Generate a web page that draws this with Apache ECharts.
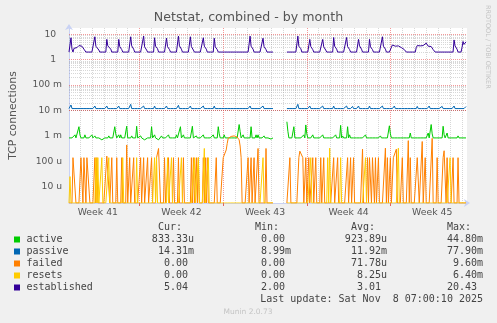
<!DOCTYPE html>
<html><head><meta charset="utf-8">
<script src="https://cdn.jsdelivr.net/npm/echarts@6/dist/echarts.min.js"></script>
<style>html,body{margin:0;padding:0;background:#f0f0f0;}#c{width:497px;height:323px;}</style>
</head><body><div id="c"></div>
<script>
// ---- x axis: 2-hour sample slots across the month view ----
const SLOTS = 400;
const GAP = [205, 219];               // no data between these slots
const weekLabels = ['Week 41', 'Week 42', 'Week 43', 'Week 44', 'Week 45'];
const weekMid = [29, 113, 197, 281, 365];
const weekStart = [71, 155, 239, 323];
const dayLines = [11,23,35,47,59,83,95,107,119,131,143,167,179,191,203,215,227,251,263,275,287,299,311,335,347,359,371,383,395];

// ---- y axis (log) ----
const YMIN = 2.28e-6, YMAX = 17.7;
const yTickExp = [-5, -4, -3, -2, -1, 0, 1];
const yTickLabels = ['10 u', '100 u', '1 m', '10 m', '100 m', '1  ', '10  '];

// ---- series (base level + samples that differ from it) ----
const activeBase = 8.33e-4;
const activeEvents = [[6,1.1e-3],[10,2.3e-3],[11,1.1e-3],[16,1.1e-3],[23,1.1e-3],[26,1.0e-3],[33,7e-4],[38,7e-4],[40,1.0e-3],[46,2.3e-3],[47,1.2e-3],[50,1.1e-3],[52,1.1e-3],[58,2.4e-3],[63,1.0e-3],[68,2.4e-3],[72,1.0e-3],[76,7e-4],[83,2.3e-3],[86,1.1e-3],[90,7e-4],[93,1.0e-3],[95,7e-4],[100,1.1e-3],[108,1.1e-3],[112,2.3e-3],[115,1.1e-3],[124,2.4e-3],[128,1.0e-3],[135,1.1e-3],[145,1.1e-3],[150,2.3e-3],[151,1.2e-3],[156,1.1e-3],[171,2.8e-3],[172,1.5e-3],[175,1.1e-3],[183,2.3e-3],[188,1.1e-3],[190,1.1e-3],[196,1.0e-3],[201,7e-4],[203,7.5e-4],[219,3.6e-3],[220,1.5e-3],[226,2.3e-3],[236,1.1e-3],[238,2.7e-3],[239,1.2e-3],[245,1.1e-3],[255,1.1e-3],[268,1.1e-3],[273,2.6e-3],[275,1.0e-3],[280,2.3e-3],[282,1.1e-3],[298,1.1e-3],[313,1.0e-3],[322,2.5e-3],[323,1.2e-3],[343,1.3e-3],[361,1.3e-3],[364,2.8e-3],[365,1.2e-3],[376,2.4e-3],[377,1.1e-3],[380,1.3e-3],[391,1.0e-3],[399,8.33e-4]];

const passiveBase = 0.0119;
const passiveEvents = [[2,0.0165],[26,0.015],[38,0.015],[50,0.015],[62,0.0175],[75,0.015],[86,0.015],[98,0.015],[110,0.016],[122,0.015],[135,0.015],[146,0.015],[182,0.015],[195,0.015],[230,0.0175],[242,0.015],[255,0.015],[266,0.015],[279,0.015],[285,0.0145],[291,0.015],[302,0.015],[315,0.015],[327,0.015],[350,0.0145],[362,0.015],[375,0.0145],[387,0.015],[399,0.01431]];

const failedBase = 0;
const failedEvents = [[4,1.39e-4],[5,1.39e-4],[6,1.39e-4],[12,1.39e-4],[13,1.39e-4],[15,1.39e-4],[16,1.39e-4],[18,1.39e-4],[19,1.39e-4],[20,1.39e-4],[26,1.39e-4],[28,1.39e-4],[38,1.6e-4],[39,1.6e-4],[40,1.39e-4],[43,1.39e-4],[48,1.39e-4],[53,1.39e-4],[58,4.4e-4],[61,1.39e-4],[65,1.39e-4],[72,1.39e-4],[75,1.39e-4],[79,1.39e-4],[83,1.39e-4],[88,1.39e-4],[89,1.39e-4],[90,3.2e-4],[91,3.2e-4],[96,1.39e-4],[100,1.39e-4],[105,1.39e-4],[110,1.39e-4],[115,1.39e-4],[123,1.39e-4],[125,1.39e-4],[128,1.39e-4],[130,1.39e-4],[135,1.39e-4],[137,1.39e-4],[139,1.39e-4],[148,1.39e-4],[155,1.39e-4],[156,1.39e-4],[157,1.39e-4],[158,2.8e-4],[159,5e-4],[160,8e-4],[161,9e-4],[162,9.5e-4],[163,9.5e-4],[164,9e-4],[165,9.5e-4],[166,1.0e-3],[167,9e-4],[168,9.5e-4],[169,9e-4],[170,8.5e-4],[171,7e-4],[172,4e-4],[173,1.39e-4],[180,1.39e-4],[183,1.39e-4],[186,1.39e-4],[190,3.2e-4],[198,3.2e-4],[222,1.39e-4],[231,1.39e-4],[232,2.5e-4],[233,2.5e-4],[234,2.5e-4],[235,1.39e-4],[238,1.39e-4],[241,1.39e-4],[245,1.39e-4],[248,1.39e-4],[253,1.39e-4],[256,1.39e-4],[266,1.39e-4],[270,1.39e-4],[280,1.39e-4],[283,1.39e-4],[286,1.39e-4],[295,3e-4],[300,1.39e-4],[302,1.39e-4],[303,1.39e-4],[305,1.39e-4],[306,1.39e-4],[308,1.39e-4],[311,1.39e-4],[318,3.3e-4],[320,1.39e-4],[323,1.39e-4],[326,1.39e-4],[327,1.39e-4],[328,1.39e-4],[329,3e-4],[335,1.39e-4],[341,6.5e-4],[343,1.39e-4],[350,1.39e-4],[351,1.39e-4],[355,6e-4],[358,1.39e-4],[365,8e-4],[370,1.39e-4],[376,1.39e-4],[377,2.6e-4],[378,2.6e-4],[380,1.39e-4],[386,1.39e-4],[391,1.39e-4]];

const resetsBase = 0;
const resetsEvents = [[1,2.5e-5],[27,1.39e-4],[29,1.39e-4],[33,1.39e-4],[40,1.39e-4],[54,1.39e-4],[68,1.39e-4],[86,1.39e-4],[88,1.39e-4],[99,1.39e-4],[103,1.39e-4],[113,1.39e-4],[126,1.39e-4],[130,1.39e-4],[136,3.2e-4],[140,1.39e-4],[195,1.39e-4],[243,1.39e-4],[260,1.39e-4],[262,3.3e-4],[273,1.39e-4],[298,1.39e-4],[331,3.3e-4],[383,1.39e-4]];

const establishedBase = 2;
const establishedEvents = [[2,7.3],[3,2.6],[5,2.8],[6,3.0],[7,3.2],[8,3.0],[9,3.4],[10,3.6],[11,3.3],[12,3.8],[13,3.4],[14,3.0],[15,2.6],[16,2.3],
[26,8.0],[27,3.4],[28,3.7],[29,3.0],[30,2.4],[38,6.3],[39,3.5],[40,3.2],[41,3.9],[42,2.6],[50,6.3],[51,3.3],[52,3.7],[53,2.5],
[62,8.0],[63,3.5],[64,3.8],[65,2.6],[75,8.5],[76,3.2],[77,3.6],[78,2.4],[86,7.3],[87,3.4],[88,3.9],[89,2.7],[98,7.0],[99,3.3],[100,3.6],[101,2.5],
[110,8.5],[111,3.5],[112,3.8],[113,2.6],[122,8.0],[123,3.3],[124,3.7],[125,2.4],[135,7.3],[136,3.4],[137,3.9],[138,2.6],[146,7.0],[147,3.2],[148,3.6],[149,2.5],
[182,8.5],[183,3.4],[184,3.7],[185,2.6],[195,7.0],[196,3.3],[197,3.8],[198,2.5],[230,8.5],[231,3.4],[232,3.9],[233,2.7],[242,6.3],[243,3.3],[244,3.6],[245,2.5],
[255,6.3],[256,3.2],[257,3.7],[258,2.4],[266,7.5],[267,3.4],[268,3.8],[269,2.6],[279,7.5],[280,3.3],[281,3.6],[282,2.5],[291,6.3],[292,3.5],[293,3.9],[294,2.6],
[302,6.3],[303,3.2],[304,3.7],[305,2.5],[315,8.0],[316,3.4],[317,3.8],[318,2.6],
[325,3.8],[326,4.4],[327,3.6],[328,3.4],[329,3.7],[330,3.3],[331,3.5],[332,3.2],[333,3.4],[334,3.0],[335,3.2],[336,2.8],[337,2.5],[338,2.2],
[349,3.0],[350,3.6],[351,3.4],[352,3.3],[353,3.5],[354,3.2],[355,3.4],[356,3.6],[357,3.3],[358,3.9],[359,4.5],[360,3.8],[361,3.4],[362,3.6],[363,3.0],[364,3.3],[365,2.8],[366,2.5],[367,2.2],
[387,6.0],[388,3.5],[389,3.8],[390,2.6],[395,3.0],[396,5.2],[397,4.0],[398,4.4],[399,5.04]];

// ---- legend texts ----
const legendNames = ['active', 'passive', 'failed', 'resets', 'established'];
const legendColors = ['#00CC00', '#0066B3', '#FF8000', '#FFCC00', '#330099'];
const curVals = ['833.33u', '14.31m', '0.00', '0.00', '5.04'];
const minVals = ['0.00', '8.99m', '0.00', '0.00', '2.00'];
const avgVals = ['923.89u', '11.92m', '71.78u', '8.25u', '3.01'];
const maxVals = ['44.80m', '77.90m', '9.60m', '6.40m', '20.43'];
const lastUpdate = 'Last update: Sat Nov  8 07:00:10 2025';

function build(base, events) {
  const v = [];
  for (let i = 0; i < SLOTS; i++) v.push(base);
  events.forEach(e => { v[e[0]] = e[1]; });
  return v.map((y, i) => (i > GAP[0] && i < GAP[1]) ? [i, '-'] : [i, y > 0 ? y : YMIN]);
}

// grid lines (minor grey, major red)
const minorLines = [], majorLines = [];
dayLines.forEach(x => minorLines.push({xAxis: x}));
weekStart.forEach(x => majorLines.push({xAxis: x}));
for (let d = -6; d <= 1; d++) {
  for (let m = 1; m <= 9; m++) {
    const val = m * Math.pow(10, d);
    if (val <= YMIN * 1.01 || val >= YMAX) continue;
    (m === 1 ? majorLines : minorLines).push({yAxis: val});
  }
}

const MONO = '"DejaVu Sans Mono", monospace';
const SANS = '"DejaVu Sans", sans-serif';
const graphics = [];
const rowY = [239.5, 251.5, 263.5, 275.5, 287.5];
[['Cur:', 158], ['Min:', 255], ['Avg:', 351], ['Max:', 447]].forEach(h => graphics.push({
  type: 'text', x: h[1], y: 227.5, style: {text: h[0], font: '10px ' + MONO, fill: '#444', align: 'left', verticalAlign: 'middle'}}));
function withSuffix(s) { return /[0-9]$/.test(s) ? s + ' ' : s; }
legendNames.forEach((n, i) => {
  const y = rowY[i];
  graphics.push({type: 'rect', shape: {x: 14, y: y - 3, width: 6, height: 6}, style: {fill: legendColors[i]}});
  graphics.push({type: 'text', x: 26.5, y: y, style: {text: n, font: '10px ' + MONO, fill: '#444', align: 'left', verticalAlign: 'middle'}});
  [[curVals, 194], [minVals, 291], [avgVals, 387], [maxVals, 483]].forEach(c => {
    graphics.push({type: 'text', x: c[1], y: y, style: {text: withSuffix(c[0][i]), font: '10px ' + MONO, fill: '#444', align: 'right', verticalAlign: 'middle'}});
  });
});
graphics.push({type: 'text', x: 483, y: 299.5, style: {text: lastUpdate, font: '10px ' + MONO, fill: '#444', align: 'right', verticalAlign: 'middle'}});
graphics.push({type: 'text', x: 248, y: 312, style: {text: 'Munin 2.0.73', font: '7.5px ' + SANS, fill: '#c4c4c4', align: 'center', verticalAlign: 'middle'}});
graphics.push({type: 'text', x: 487.5, y: 5, rotation: -Math.PI / 2, style: {text: 'RRDTOOL / TOBI OETIKER', font: '6.5px ' + SANS, fill: '#c4c4c4', align: 'left', verticalAlign: 'middle'}});

function lineSeries(name, color, data, z) {
  return {name, type: 'line', data, showSymbol: false, symbol: 'none', z,
    lineStyle: {color, width: 1}, itemStyle: {color}, connectNulls: false, animation: false, clip: true, sampling: null};
}
function gridSeries(lines, color) {
  return {type: 'line', data: [], z: 1, silent: true,
    markLine: {silent: true, symbol: 'none', z: 1, animation: false, label: {show: false},
      lineStyle: {color, type: 'dotted', width: 1}, emphasis: {disabled: true}, data: lines}};
}

const chart = echarts.init(document.getElementById('c'), null, {renderer: 'canvas'});
chart.setOption({
  animation: false,
  backgroundColor: '#f0f0f0',
  title: {text: 'Netstat, combined - by month', left: 'center', top: 11, padding: 0,
    textStyle: {fontFamily: SANS, fontSize: 12.6, fontWeight: 'normal', color: '#555'}},
  grid: {left: 67, top: 28, width: 400, height: 175, show: true, backgroundColor: '#ffffff', borderWidth: 0},
  xAxis: {type: 'value', min: 0, max: SLOTS,
    axisLine: {show: true, lineStyle: {color: '#c9d2f4', width: 1}, symbol: ['none', 'arrow'], symbolSize: [6, 6], symbolOffset: [0, 3]},
    axisTick: {show: true, customValues: weekStart, length: 3, lineStyle: {color: '#e06060'}},
    splitLine: {show: false},
    axisLabel: {customValues: weekMid, formatter: v => weekLabels[weekMid.indexOf(v)] || '',
      fontFamily: SANS, fontSize: 9.3, color: '#555', margin: 5}},
  yAxis: {type: 'log', logBase: 10, min: YMIN, max: YMAX,
    axisLine: {show: true, lineStyle: {color: '#c9d2f4', width: 1}, symbol: ['none', 'arrow'], symbolSize: [6, 6], symbolOffset: [0, 4]},
    axisTick: {show: false}, splitLine: {show: false},
    axisLabel: {fontFamily: SANS, fontSize: 9.2, color: '#555', margin: 7, showMinLabel: true, showMaxLabel: true,
      formatter: v => {
        const l = Math.log10(v); const e = Math.round(l);
        if (Math.abs(l - e) > 0.01) return '';
        const k = yTickExp.indexOf(e);
        return k < 0 ? '' : yTickLabels[k];
      }},
    name: 'TCP connections', nameLocation: 'middle', nameGap: 50,
    nameTextStyle: {fontFamily: SANS, fontSize: 10.8, color: '#555'}},
  graphic: graphics,
  series: [
    gridSeries(minorLines, 'rgba(150,150,150,0.38)'),
    gridSeries(majorLines, 'rgba(235,70,70,0.55)'),
    lineSeries('active', legendColors[0], build(activeBase, activeEvents), 3),
    lineSeries('passive', legendColors[1], build(passiveBase, passiveEvents), 3),
    lineSeries('failed', legendColors[2], build(failedBase, failedEvents), 3),
    lineSeries('resets', legendColors[3], build(resetsBase, resetsEvents), 3),
    lineSeries('established', legendColors[4], build(establishedBase, establishedEvents), 3)
  ]
});
</script></body></html>
